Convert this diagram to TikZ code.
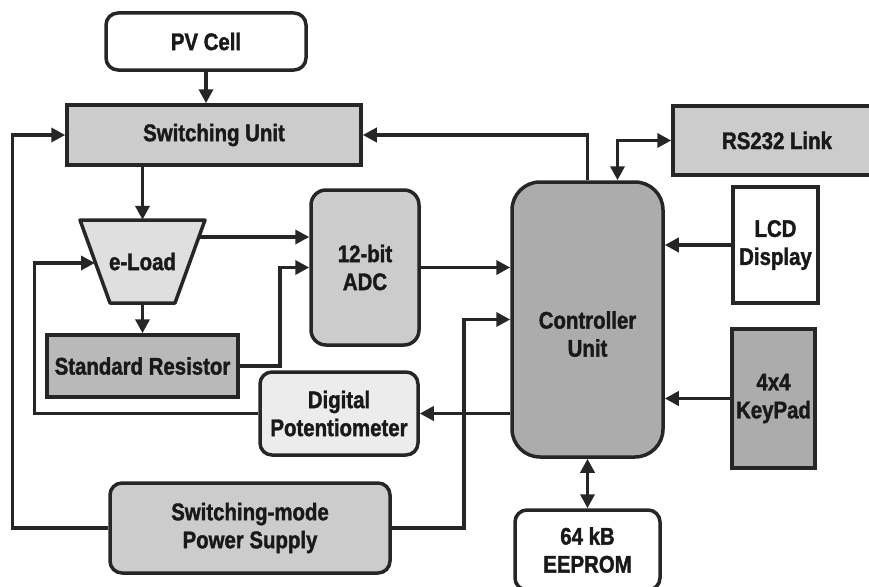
\documentclass[tikz,border=0pt]{standalone}
\usepackage{fontspec}
\setmainfont{Liberation Sans}
\newfontfamily\lblfont[FakeStretch=0.85,FakeBold=1.5]{Liberation Sans}
\usetikzlibrary{arrows.meta,calc}
\tikzset{
 blk/.style={draw=black!85,line width=3.5pt, font=\lblfont\bfseries\fontsize{24}{28}\selectfont, align=center, inner sep=0pt, text=black!90},
 rbox/.style={blk, rounded corners=12pt},
 lbl/.style={font=\lblfont\bfseries\fontsize{24}{28}\selectfont, align=center, inner sep=0pt, text=black!90},
 conn/.style={line width=3.5pt, draw=black!85, -{Triangle[length=14pt,width=14pt]}},
 conn2/.style={line width=3.5pt, draw=black!85, {Triangle[length=14pt,width=14pt]}-{Triangle[length=14pt,width=14pt]}},
}
\begin{document}
\begin{tikzpicture}[x=1pt,y=-1pt]
\useasboundingbox (0,0) rectangle (869,586);
\clip (0,0) rectangle (869,586);
\node[rbox, fill=white, minimum width=200pt, minimum height=57pt] (pv) at (206,41.5) {PV Cell};
\node[blk, fill=gray!40, minimum width=294pt, minimum height=60pt] (sw) at (214,135) {Switching Unit};
\filldraw[fill=gray!25, draw=black!85, line width=3.5pt, line join=round] (80,220) -- (205,220) -- (175,303) -- (110,303) -- cycle;
\node[lbl, minimum width=125pt, minimum height=83pt] (eload) at (142.5,261.5) {e-Load};
\node[rbox, rounded corners=15pt, fill=gray!40, minimum width=108pt, minimum height=155pt] (adc) at (365,267.5) {12-bit\\ADC};
\node[blk, fill=gray!55, minimum width=191pt, minimum height=62pt] (sr) at (142.5,366) {Standard Resistor};
\node[rbox, fill=gray!15, minimum width=158pt, minimum height=83pt] (pot) at (339,413.5) {Digital\\Potentiometer};
\node[rbox, fill=gray!40, minimum width=280pt, minimum height=90pt] (ps) at (250,528) {Switching-mode\\Power Supply};
\node[blk, fill=gray!65, rounded corners=28pt, minimum width=151pt, minimum height=275pt] (ctrl) at (587.5,319.5) {};
\node[lbl] (ctrltxt) at (587.5,334) {Controller\\Unit};
\node[blk, fill=gray!40, minimum width=208pt, minimum height=69pt] (rs) at (777,140.5) {RS232 Link};
\node[blk, fill=white, minimum width=85pt, minimum height=116pt] (lcd) at (775.5,245) {LCD\\Display};
\node[blk, fill=gray!65, minimum width=83pt, minimum height=139pt] (kp) at (773.5,398.5) {4x4\\KeyPad};
\node[rbox, fill=white, minimum width=145pt, minimum height=80pt] (ee) at (587.5,550) {64 kB\\EEPROM};
\coordinate (elR) at (199,237);
\coordinate (elL) at (95,263);
\draw[conn] (pv.south) -- (pv.south |- sw.north);
\draw[conn] (sw.south -| eload.north) -- (eload.north);
\draw[conn] (eload.south) -- (sr.north);
\draw[conn] (elR) -- (elR -| adc.west);
\draw[conn] (sr.east) -- ++(40,0) |- (adc.west);
\draw[conn] (adc.east) -- (adc.east -| ctrl.west);
\draw[conn] (ctrl.north) |- (sw.east);
\draw[conn2] ($(ctrl.north)+(30,0)$) |- (rs.west);
\draw[conn] (lcd.west) -- (lcd.west -| ctrl.east);
\draw[conn] (kp.west) -- (kp.west -| ctrl.east);
\draw[conn] (ctrl.west |- pot.east) -- (pot.east);
\draw[conn] (pot.west) -- ++(-224,0) |- (elL);
\draw[conn] (ps.west) -- ++(-96,0) |- (sw.west);
\draw[conn] (ps.east) -- ++(72,0) |- (ctrl.west);
\draw[conn2] (ctrl.south) -- (ee.north);
\end{tikzpicture}
\end{document}
